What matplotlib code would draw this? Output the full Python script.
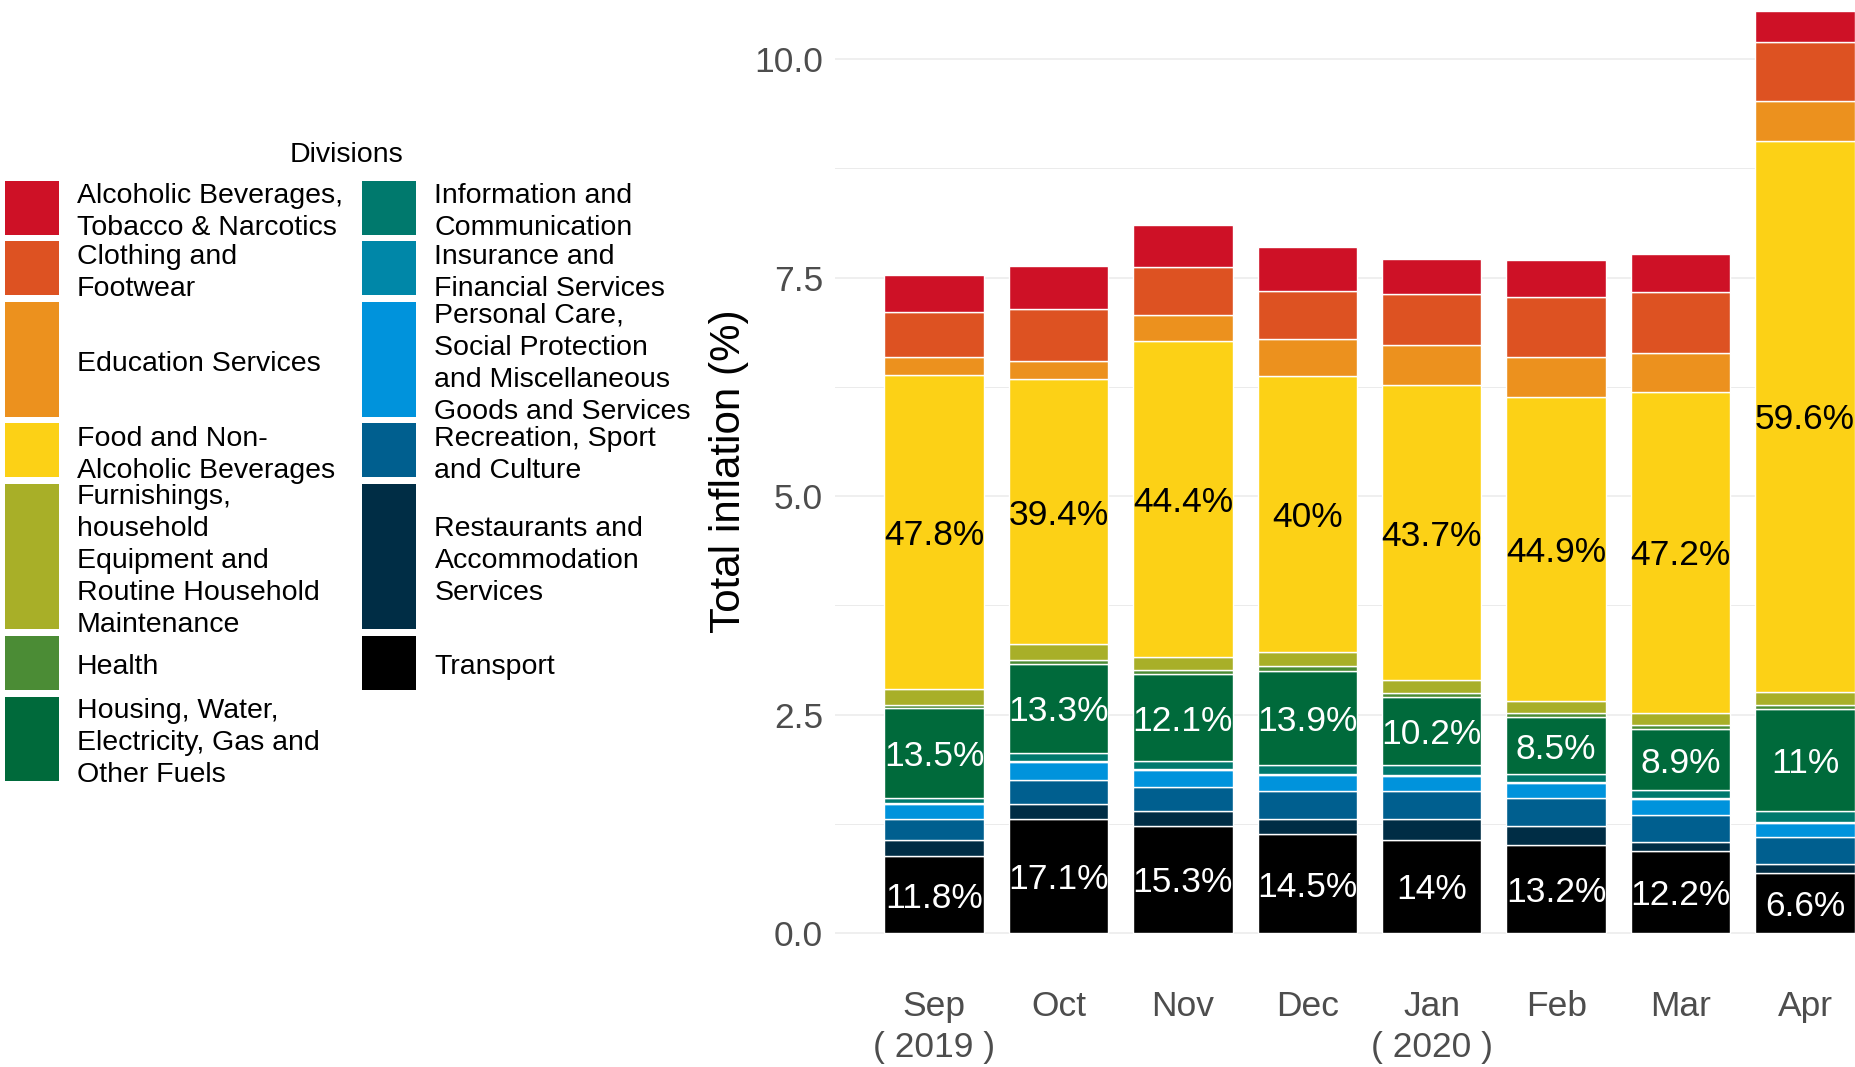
import numpy as np
import matplotlib.pyplot as plt
from matplotlib.patches import Rectangle

plt.rcParams['font.family'] = ['Liberation Sans', 'DejaVu Sans']

# Datos
months = ['Sep\n( 2019 )', 'Oct', 'Nov', 'Dec', 'Jan\n( 2020 )', 'Feb', 'Mar', 'Apr']

divisions = ['Alcoholic Beverages,\nTobacco & Narcotics',
             'Clothing and\nFootwear',
             'Education Services',
             'Food and Non-\nAlcoholic Beverages',
             'Furnishings,\nhousehold\nEquipment and\nRoutine Household\nMaintenance',
             'Health',
             'Housing, Water,\nElectricity, Gas and\nOther Fuels',
             'Information and\nCommunication',
             'Insurance and\nFinancial Services',
             'Personal Care,\nSocial Protection\nand Miscellaneous\nGoods and Services',
             'Recreation, Sport\nand Culture',
             'Restaurants and\nAccommodation\nServices',
             'Transport']

colors = ['#CE1126', '#DD5222', '#EC911E', '#FCD116', '#A8AF28', '#4B8C35',
          '#006A3B', '#00796D', '#0087A8', '#0093DC', '#005F8F', '#002D45', '#000000']

alcoholic = [0.43, 0.50, 0.48, 0.50, 0.40, 0.42, 0.44, 0.35]
clothing = [0.51, 0.59, 0.55, 0.55, 0.58, 0.69, 0.69, 0.68]
education = [0.20, 0.21, 0.30, 0.43, 0.46, 0.46, 0.45, 0.46]
food = [3.60, 3.03, 3.61, 3.15, 3.38, 3.47, 3.67, 6.30]
furnishings = [0.18, 0.18, 0.15, 0.16, 0.14, 0.14, 0.14, 0.15]
health = [0.04, 0.05, 0.05, 0.06, 0.05, 0.05, 0.05, 0.05]
housing = [1.02, 1.01, 0.99, 1.08, 0.78, 0.65, 0.69, 1.16]
information = [0.06, 0.10, 0.09, 0.10, 0.11, 0.09, 0.10, 0.13]
insurance = [0.01, 0.01, 0.01, 0.01, 0.01, 0.01, 0.01, 0.01]
personal = [0.18, 0.20, 0.20, 0.18, 0.18, 0.18, 0.18, 0.16]
recreation = [0.23, 0.275, 0.27, 0.33, 0.32, 0.31, 0.31, 0.31]
restaurants = [0.19, 0.18, 0.17, 0.17, 0.23, 0.22, 0.10, 0.10]
transport = [0.88, 1.30, 1.23, 1.13, 1.07, 1.01, 0.94, 0.69]

food_share = ['47.8%', '39.4%', '44.4%', '40%', '43.7%', '44.9%', '47.2%', '59.6%']
housing_share = ['13.5%', '13.3%', '12.1%', '13.9%', '10.2%', '8.5%', '8.9%', '11%']
transport_share = ['11.8%', '17.1%', '15.3%', '14.5%', '14%', '13.2%', '12.2%', '6.6%']

series = [alcoholic, clothing, education, food, furnishings, health, housing,
          information, insurance, personal, recreation, restaurants, transport]

#Crear figura
W, H = 1856, 1067
fig = plt.figure(figsize=(W / 100, H / 100), dpi=100)

def fx(px):
    return px / W

def fy(py):
    return 1 - py / H

ax = fig.add_axes([fx(835), fy(979), fx(1856 - 835), 979 / H])
ax.set_xlim(-0.796, 7.41)
ax.set_ylim(-0.526, 10.675)

x = np.arange(len(months))
bottom = np.zeros(len(months))
mids = {}
# apilar desde abajo (Transport) hacia arriba
for i in range(len(series) - 1, -1, -1):
    vals = np.array(series[i])
    ax.bar(x, vals, 0.8, bottom=bottom, color=colors[i], edgecolor='white',
           linewidth=1.0, zorder=2)
    mids[i] = bottom + vals / 2
    bottom = bottom + vals

for j in range(len(months)):
    ax.text(x[j], mids[3][j], food_share[j], ha='center', va='center_baseline',
            fontsize=25.5, color='black', zorder=3)
    ax.text(x[j], mids[6][j], housing_share[j], ha='center', va='center_baseline',
            fontsize=25.5, color='white', zorder=3)
    ax.text(x[j], mids[12][j], transport_share[j], ha='center', va='center_baseline',
            fontsize=25.5, color='white', zorder=3)

for s in ax.spines.values():
    s.set_visible(False)

ax.set_yticks([0, 2.5, 5, 7.5, 10])
ax.set_yticklabels(['0.0', '2.5', '5.0', '7.5', '10.0'])
ax.set_yticks([1.25, 3.75, 6.25, 8.75], minor=True)
ax.set_xticks(x)
ax.set_xticklabels(months, linespacing=1.32)
ax.tick_params(which='both', length=0, labelsize=25.5, labelcolor='#4D4D4D')
ax.tick_params(axis='y', pad=8.5)
ax.tick_params(axis='x', pad=7.8)
ax.set_axisbelow(True)
ax.yaxis.grid(True, which='major', color='#EBEBEB', linewidth=1.1)
ax.yaxis.grid(True, which='minor', color='#EBEBEB', linewidth=0.7)
ax.xaxis.grid(False)

ax.set_ylabel('Total inflation (%)', fontsize=30.3, color='black', va='center', ha='center')
ax.yaxis.set_label_coords((729 - 835) / (1856 - 835), (979 - 471) / 979)

# Leyenda
fig.text(fx(347), fy(155), 'Divisions', ha='center', va='center', fontsize=20.5)
key_x = [4.7, 362]
text_x = [77, 434.5]
y = 181
for r in range(7):
    items = [r] + ([r + 7] if r + 7 < len(divisions) else [])
    n = max([2] + [divisions[i].count('\n') + 1 for i in items])
    h = 30.5 * n - 7.5
    for col, i in enumerate(items):
        fig.add_artist(Rectangle((fx(key_x[col]), fy(y + h)), fx(54.5), h / H,
                                 facecolor=colors[i], edgecolor='none',
                                 transform=fig.transFigure))
        fig.text(fx(text_x[col]), fy(y + h / 2 + 4.5), divisions[i], ha='left',
                 va='center', fontsize=20.5, linespacing=1.31)
    y += h + 7

fig.savefig('out.png', dpi=100)
